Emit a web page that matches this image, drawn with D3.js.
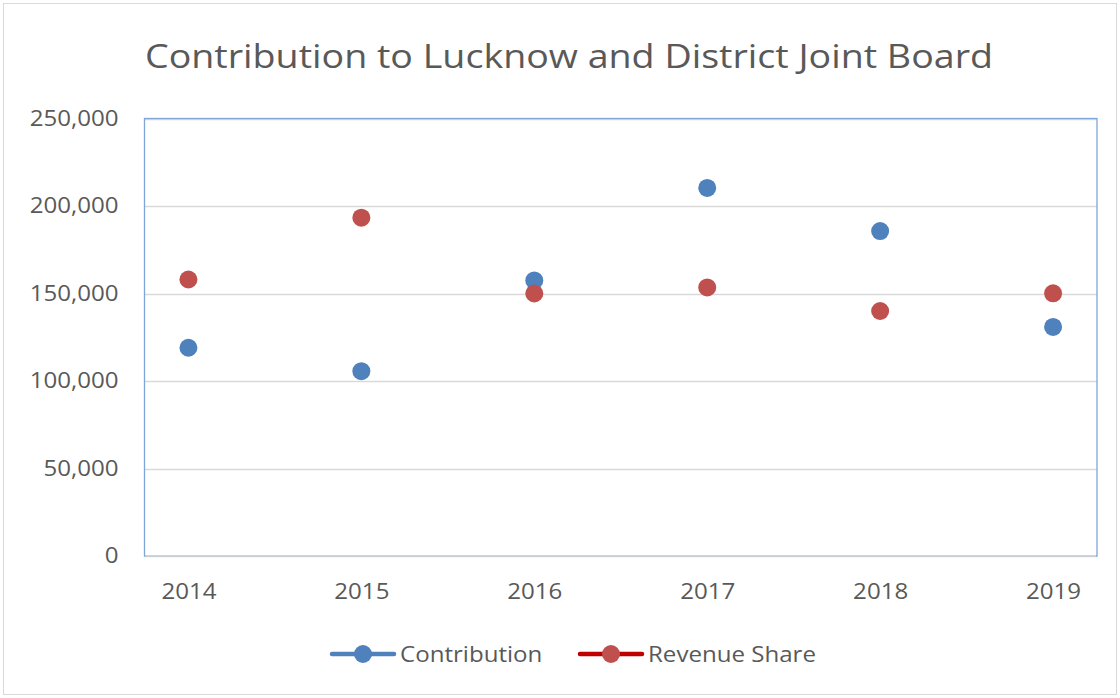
<!DOCTYPE html>
<html><head><meta charset="utf-8">
<script src="https://cdn.jsdelivr.net/npm/d3@7"></script>
<style>html,body{margin:0;padding:0;background:#fff;}svg{display:block;}</style>
</head><body>
<script>
const years = ["2014","2015","2016","2017","2018","2019"];
const contribution = [119000, 105600, 157500, 210300, 185700, 130900];
const revenueShare = [158000, 193300, 150000, 153500, 140000, 150100];
const yTicks = [0, 50000, 100000, 150000, 200000, 250000];
const seriesNames = ["Contribution", "Revenue Share"];

const W = 1120, H = 698;
const m = {left: 144.5, right: 1097, top: 118.5, bottom: 556};
const font = "Open Sans, Noto Sans, sans-serif";
const svg = d3.select("body").append("svg").attr("width", W).attr("height", H);

function stretch(sel, k) {
  sel.each(function () {
    const len = this.getComputedTextLength();
    d3.select(this).attr("textLength", len * k).attr("lengthAdjust", "spacingAndGlyphs");
  });
}

svg.append("rect").attr("x", 3.5).attr("y", 3.5).attr("width", W - 7).attr("height", H - 7)
  .attr("fill", "#fff").attr("stroke", "#d9d9d9").attr("stroke-width", 1);

const x = d3.scalePoint().domain(years).range([m.left, m.right]).padding(0.254);
const y = d3.scaleLinear().domain([0, 250000]).range([m.bottom, m.top]);

svg.append("g").selectAll("line").data(yTicks).join("line")
  .attr("x1", m.left).attr("x2", m.right)
  .attr("y1", d => Math.round(y(d)) + 0.5).attr("y2", d => Math.round(y(d)) + 0.5)
  .attr("stroke", "#d9d9d9").attr("stroke-width", 1.3);

svg.append("rect").attr("x", m.left).attr("y", m.top)
  .attr("width", m.right - m.left).attr("height", m.bottom - m.top)
  .attr("fill", "none").attr("stroke", "#7ea6d8").attr("stroke-width", 1.3);
svg.append("line").attr("x1", m.left + 1).attr("x2", m.right - 1)
  .attr("y1", y(0)).attr("y2", y(0)).attr("stroke", "#d9d9d9").attr("stroke-width", 1.5);

const yAxis = d3.axisLeft(y).tickValues(yTicks).tickSize(0).tickPadding(26)
  .tickFormat(d3.format(","));
const gy = svg.append("g").attr("transform", `translate(${m.left},0)`).call(yAxis);
gy.select(".domain").remove();
gy.selectAll("text").attr("font-family", font).attr("font-size", 21.5).attr("fill", "#595959");
stretch(gy.selectAll("text"), 1.12);

const xAxis = d3.axisBottom(x).tickSize(0).tickPadding(28);
const gx = svg.append("g").attr("transform", `translate(0,${m.bottom})`).call(xAxis);
gx.select(".domain").remove();
gx.selectAll("text").attr("font-family", font).attr("font-size", 21.5).attr("fill", "#595959");
stretch(gx.selectAll("text"), 1.12);

const colors = ["#4f81bd", "#c0504d"];
[contribution, revenueShare].forEach((vals, i) => {
  svg.append("g").selectAll("circle").data(vals).join("circle")
    .attr("cx", (d, j) => x(years[j])).attr("cy", d => y(d)).attr("r", 9)
    .attr("fill", colors[i]);
});

svg.append("text").attr("x", 569).attr("y", 68).attr("text-anchor", "middle")
  .attr("font-family", font).attr("font-size", 32).attr("fill", "#595959")
  .attr("textLength", 848).attr("lengthAdjust", "spacingAndGlyphs")
  .text("Contribution to Lucknow and District Joint Board");

const legend = [
  {name: seriesNames[0], line: "#4f81bd", marker: "#4f81bd", x0: 332},
  {name: seriesNames[1], line: "#c00000", marker: "#c0504d", x0: 580}
];
const lg = svg.append("g");
legend.forEach(l => {
  lg.append("line").attr("x1", l.x0).attr("x2", l.x0 + 62).attr("y1", 654).attr("y2", 654)
    .attr("stroke", l.line).attr("stroke-width", 4.5).attr("stroke-linecap", "round");
  lg.append("circle").attr("cx", l.x0 + 31).attr("cy", 654).attr("r", 9).attr("fill", l.marker);
  const t = lg.append("text").attr("x", l.x0 + 68).attr("y", 662).attr("font-family", font)
    .attr("font-size", 21.5).attr("fill", "#595959").text(l.name);
  stretch(t, 1.12);
});
</script>
</body></html>
